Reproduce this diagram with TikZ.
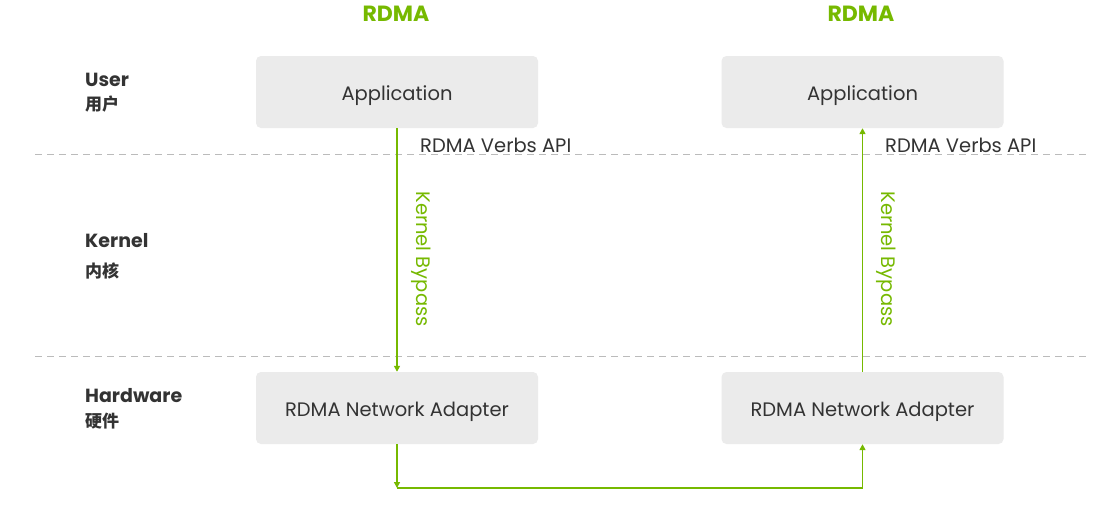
\documentclass[tikz,border=0pt]{standalone}
\usepackage{fontspec}
\setmainfont{Poppins}
\newfontfamily\cjk{Noto Sans CJK SC}
\usetikzlibrary{arrows.meta}
\definecolor{nvgreen}{HTML}{76B900}
\definecolor{boxgray}{HTML}{EBEBEB}
\definecolor{txt}{HTML}{333333}
\definecolor{dashgray}{HTML}{BBBBBB}
\begin{document}
\begin{tikzpicture}[x=1pt,y=-1pt,
  box/.style={fill=boxgray, rounded corners=5pt, minimum width=282pt, minimum height=72pt, inner sep=0pt, text=txt, font=\fontsize{19.5}{22}\selectfont, text height=17.5pt, text depth=0.5pt},
  arr/.style={draw=nvgreen, line width=1.6pt, -{Triangle[length=6pt,width=6pt]}},
  conn/.style={draw=nvgreen, line width=1.6pt},
  lay/.style={text=txt, font=\fontsize{19}{22}\selectfont\bfseries, anchor=west, inner sep=0pt},
  cjkl/.style={text=txt, font=\fontsize{17}{20}\selectfont\cjk\bfseries, anchor=west, inner sep=0pt},
  title/.style={text=nvgreen, font=\fontsize{22}{26}\selectfont\bfseries, inner sep=0pt},
  api/.style={text=txt, font=\fontsize{19.5}{22}\selectfont, anchor=west, inner sep=0pt},
  byp/.style={text=nvgreen, font=\fontsize{19.5}{22}\selectfont, rotate=-90, inner sep=0pt},
  sep/.style={draw=dashgray, line width=1pt, dash pattern=on 7pt off 5pt}]
\useasboundingbox (0,0) rectangle (1120,509);
\fill[white] (0,0) rectangle (1120,509);
% separators
\coordinate (s1a) at (35,154); \coordinate (s1b) at (1088,154);
\coordinate (s2a) at (35,356); \coordinate (s2b) at (1088,356);
\draw[sep] (s1a) -- (s1b);
\draw[sep] (s2a) -- (s2b);
% titles
\node[title] (t1) at (396,14) {RDMA};
\node[title] (t2) at (861,14) {RDMA};
% layer labels
\node[lay] (user) at (85,80) {User};
\node[cjkl] (userc) at (85,104) {用户};
\node[lay] (kern) at (85,241) {Kernel};
\node[cjkl] (kernc) at (85,271) {内核};
\node[lay] (hw) at (85,396) {Hardware};
\node[cjkl] (hwc) at (85,421) {硬件};
% boxes
\node[box] (appL) at (397,92) {Application};
\node[box] (appR) at (862.5,92) {Application};
\node[box] (nicL) at (397,408) {RDMA Network Adapter};
\node[box] (nicR) at (862.5,408) {RDMA Network Adapter};
% labels
\node[api] (apiL) at (420,145) {RDMA Verbs API};
\node[api] (apiR) at (885,145) {RDMA Verbs API};
\node[byp] (bypL) at (421,259) {Kernel Bypass};
\node[byp] (bypR) at (886,259) {Kernel Bypass};
% arrows
\draw[arr] (appL.south) -- (nicL.north);
\draw[arr] (nicR.north) -- (appR.south);
\coordinate (c1) at (397,488);
\coordinate (c2) at (862.5,488);
\draw[arr] (nicL.south) -- (c1);
\draw[conn] (c1) -- (c2);
\draw[arr] (c2) -- (nicR.south);
\end{tikzpicture}
\end{document}
